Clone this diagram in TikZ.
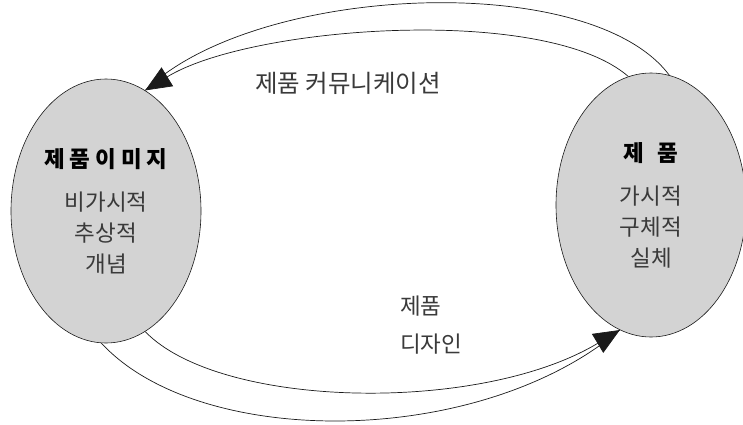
\documentclass[tikz,border=0pt]{standalone}
\usepackage{fontspec}
\setmainfont{Noto Sans CJK KR}
\usetikzlibrary{arrows.meta,shapes.geometric}
\definecolor{BlobGray}{HTML}{D3D3D3}
\definecolor{InkDark}{HTML}{1A1A1A}
\definecolor{InkSoft}{HTML}{3A3A3A}
\newcommand\blobhead[1]{{\bfseries\color{black}\addfontfeatures{LetterSpace=22}#1}}
\tikzset{
  blob/.style={ellipse, draw=InkDark, fill=BlobGray, line width=0.6pt,
               inner sep=0pt, minimum width=190pt, minimum height=264pt,
               align=center, font=\fontsize{22.5}{31}\selectfont\color{InkSoft}},
  flow/.style={line width=0.7pt, InkDark},
  flowtip/.style={-{Triangle[length=26pt,width=22pt]}, line width=0.7pt, InkDark},
  flowtext/.style={inner sep=0pt, font=\fontsize{22.5}{25}\selectfont\color{InkSoft}},
}

\begin{document}
\begin{tikzpicture}[x=1pt, y=1pt]
  \useasboundingbox (0,0) rectangle (743,424);

  % the two states
  \node[blob] (img)  at (106,213) {\blobhead{제품이미지}\\[12pt] 비가시적\\ 추상적\\ 개념};
  \node[blob] (prod) at (651,219) {\blobhead{제\hspace{0.6em}품}\\[12pt] 가시적\\ 구체적\\ 실체};

  % product communication: product -> image
  \draw[flow] (prod.82) .. controls (590,455) and (255,440) .. (img.72);
  \draw[flowtip] (prod.100) .. controls (545,420) and (250,398) .. (img.72);
  \node[flowtext, font=\fontsize{24.5}{28}\selectfont\color{InkSoft}] (comm) at (348,341) {제품 커뮤니케이션};

  % product design: image -> product
  \draw[flow] (img.268) .. controls (200,-26) and (480,-24) .. (prod.256);
  \draw[flowtip] (img.288) .. controls (220,15) and (480,10) .. (prod.256);
  \node[flowtext, anchor=west] (dsgn) at (400,118) {제품};
  \node[flowtext, anchor=west] (dsgn2) at (400,80) {디자인};

\end{tikzpicture}
\end{document}
